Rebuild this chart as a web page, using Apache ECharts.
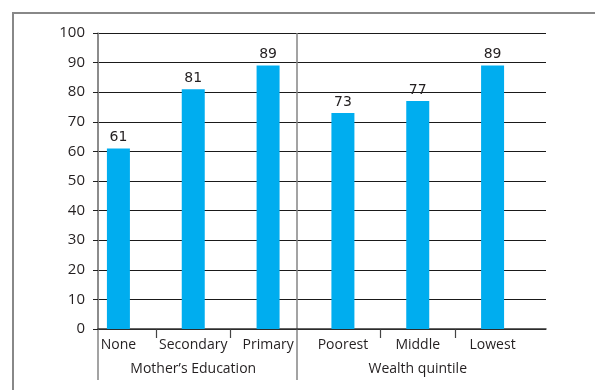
<!DOCTYPE html>
<html>
<head>
<meta charset="utf-8">
<script src="https://cdn.jsdelivr.net/npm/echarts@6/dist/echarts.min.js"></script>
<style>
  html, body { margin: 0; padding: 0; background: #fff; }
  #chart { position: absolute; left: 0; top: 0; width: 595px; height: 390px; }
  /* grey frame round the figure, only top and left edges show */
  #frame { position: absolute; left: 12px; top: 12px; width: 620px; height: 420px;
           border-top: 2px solid #888; border-left: 2px solid #888; pointer-events: none; }
</style>
</head>
<body>
<div id="chart"></div>
<div id="frame"></div>
<script>
var categories = ['None', 'Secondary', 'Primary', 'Poorest', 'Middle', 'Lowest'];
var values = [61, 81, 89, 73, 77, 89];
var groups = ['Mother’s Education', 'Wealth quintile'];
var groupSizes = [3, 3];
var yMin = 0, yMax = 100, yStep = 10;

// index where each group starts, and the category under which its name is written
var groupStart = {}, groupLabelAt = {};
var pos = 0;
for (var g = 0; g < groups.length; g++) {
  groupStart[pos] = true;
  groupLabelAt[pos + Math.floor(groupSizes[g] / 2)] = groups[g];
  pos += groupSizes[g];
}

var txt = '#231f20';
var grey = '#858585';
var axisFont = 'Open Sans';

var myChart = echarts.init(document.getElementById('chart'));
var option = {
  animation: false,
  grid: [
    { left: 98, top: 33, width: 448, height: 296 },   // frame, gridlines, y labels
    { left: 81, top: 33, width: 449, height: 296 },   // bars + category labels
    { left: 98, top: 33, width: 398, height: 347 },   // long vertical lines
    { left: 81, top: 329, width: 449, height: 9 }     // inner category ticks
  ],
  xAxis: [
    {
      gridIndex: 0, type: 'category', data: categories,
      axisLine: { lineStyle: { color: '#333', width: 1.5 } },
      axisTick: {
        length: 9, lineStyle: { color: grey, width: 1.5 },
        interval: function (i) { return i === categories.length - 1; }
      },
      axisLabel: { show: false },
      splitLine: { show: false }
    },
    {
      gridIndex: 1, type: 'category', data: categories,
      axisLine: { show: false },
      axisTick: { show: false },
      axisLabel: {
        interval: 0, margin: 8, fontSize: 14, lineHeight: 16,
        color: txt, fontFamily: axisFont,
        formatter: function (value, index) {
          var gl = groupLabelAt[index];
          return gl ? value + '\n{g|' + gl + '}' : value;
        },
        rich: {
          g: { fontSize: 14, lineHeight: 32, color: txt, fontFamily: axisFont }
        }
      }
    },
    {
      gridIndex: 2, type: 'category', data: groups,
      axisLine: { show: false }, axisTick: { show: false }, axisLabel: { show: false },
      splitLine: {
        show: true, showMaxLine: false, interval: 0,
        lineStyle: { color: grey, width: 1.5 }
      }
    },
    {
      gridIndex: 3, type: 'category', data: categories,
      axisLine: { show: false }, axisTick: { show: false }, axisLabel: { show: false },
      splitLine: {
        show: true, showMinLine: false, showMaxLine: false,
        interval: function (i) { return !groupStart[i] || i === 0; },
        lineStyle: { color: '#444', width: 1.2 }
      }
    }
  ],
  yAxis: [
    {
      gridIndex: 0, type: 'value', min: yMin, max: yMax, interval: yStep,
      axisLine: { show: true, lineStyle: { color: grey, width: 1.5 } },
      axisTick: { show: true, length: 5, lineStyle: { color: '#222' } },
      axisLabel: { margin: 13, fontSize: 15, color: txt, fontFamily: axisFont },
      splitLine: { lineStyle: { color: '#1a1a1a', width: 1 } }
    },
    { gridIndex: 1, type: 'value', min: yMin, max: yMax, show: false },
    { gridIndex: 2, type: 'value', min: 0, max: 1, show: false },
    { gridIndex: 3, type: 'value', min: 0, max: 1, show: false }
  ],
  series: [
    {
      type: 'bar',
      xAxisIndex: 1, yAxisIndex: 1,
      data: values,
      barWidth: 23,
      itemStyle: { color: '#00adef' },
      label: {
        show: true, position: 'top', distance: 4,
        fontSize: 14, color: txt, fontFamily: 'DejaVu Sans'
      }
    }
  ]
};
option && myChart.setOption(option);
</script>
</body>
</html>
